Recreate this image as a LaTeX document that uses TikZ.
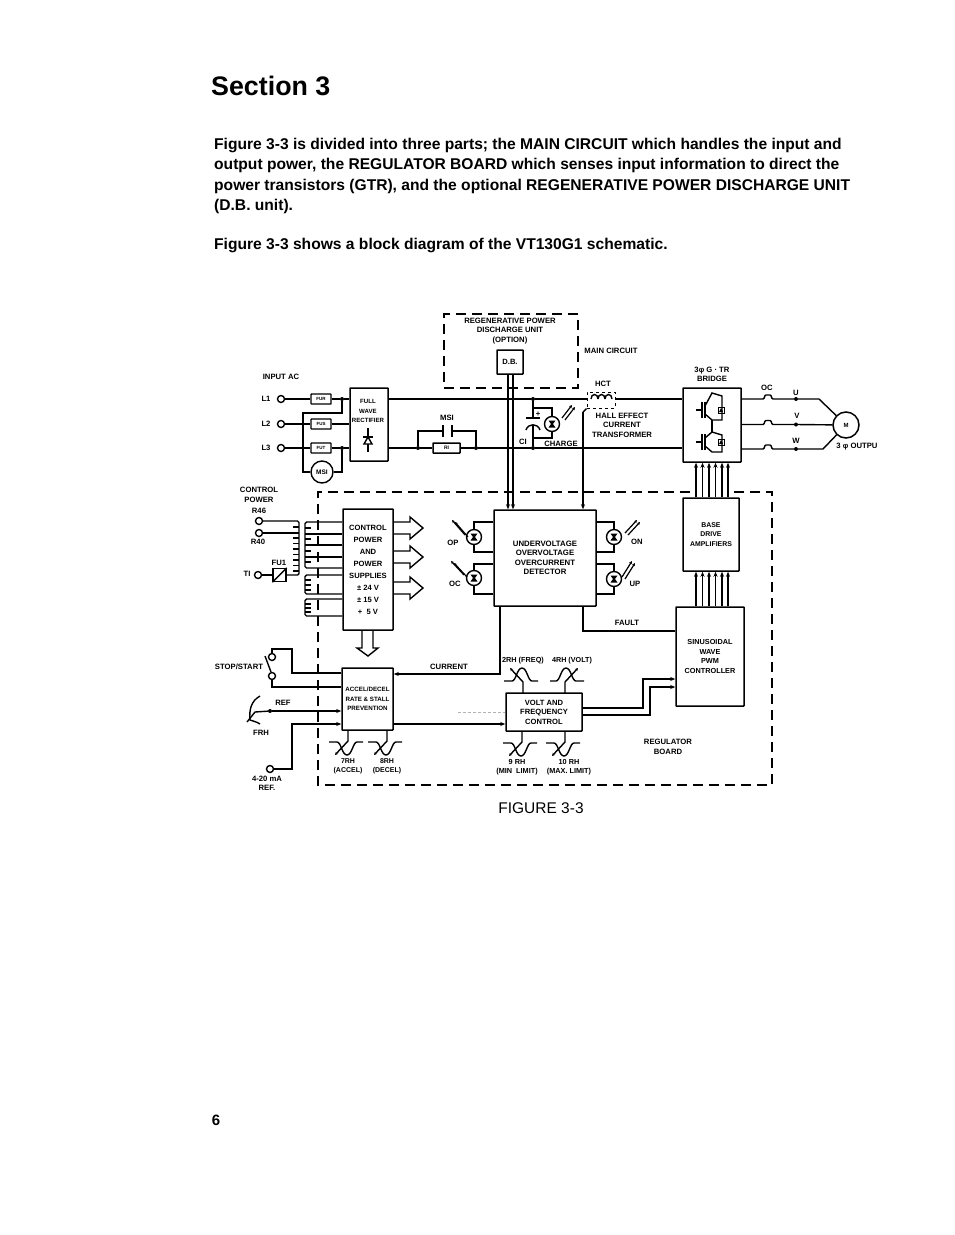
\documentclass[tikz,border=0pt]{standalone}
\usepackage{fontspec}
\setmainfont{Liberation Sans}
\usetikzlibrary{arrows.meta}
\tikzset{
  wire/.style={line width=1.4pt},
  arr/.style={wire,-{Stealth[length=5pt,width=4pt]}},
  boardline/.style={line width=1.3pt,dash pattern=on 10pt off 6pt},
  blockbox/.style={draw,line width=1.5pt,rounded corners=0.5pt,inner sep=0pt,align=center,font=\fontsize{7.6}{12}\selectfont\bfseries},
  lab/.style={inner sep=0pt,align=center,font=\fontsize{7.7}{9.5}\selectfont\bfseries},
  para/.style={anchor=west,inner sep=0pt,font=\fontsize{15.6}{17}\selectfont\bfseries},
  fusebox/.style={draw,line width=1.4pt,rounded corners=0.5pt,minimum width=20pt,minimum height=10pt,inner sep=0pt,font=\fontsize{4.5}{4}\selectfont\bfseries},
  term/.style={draw,circle,line width=1.4pt,minimum size=7pt,inner sep=0pt},
  jdot/.style={fill,circle,minimum size=4pt,inner sep=0pt},
  ledring/.style={draw,circle,line width=1.4pt,minimum size=15pt,inner sep=0pt}
}
% trim pot on a block edge: x, y, side (1 below, -1 above), wiper side
\newcommand{\trimpot}[4]{
  \draw[wire,shift={(#1,#2)},yscale=#3,xscale=#4,-{Stealth[length=3pt,width=3pt]}] (0,0) -- (0,11) -- (-13,25);
  \draw[wire,shift={(#1,#2)},yscale=#3,xscale=#4] (-19,12) -- (-11,12) .. controls (-7,12) and (-6,25) .. (-1,25) .. controls (4,25) and (5,12) .. (9,12) -- (15,12);
}
% lamp with its bow-tie
\newcommand{\lampsym}[3]{
  \node[ledring] (#1) at (#2,#3) {};
  \fill[shift={(#2,#3)}] (-3.5,-3.5) -- (3.5,-3.5) -- (1,0) -- (3.5,3.5) -- (-3.5,3.5) -- (-1,0) -- cycle;
}
% pair of light arrows
\newcommand{\lightpair}[4]{
  \draw[line width=1.2pt,-{Stealth[length=3pt,width=3pt]}] (#1,#2) -- (#3,#4);
  \draw[line width=1.2pt,-{Stealth[length=3pt,width=3pt]}] (#1+3,#2+2) -- (#3+3,#4+2);
}
% transistor and diode of the bridge
\newcommand{\bridgeleg}[3]{
  \begin{scope}[shift={(#1,#2)}]
    \draw[wire] (-16,0) -- (-10,0);
    \draw[wire] (-10,-8) -- (-10,8);
    \draw[wire] (-7,-8) -- (-7,8);
    \draw[wire] (-7,-4) -- (0,#3) -- (10,#3+3) -- (10,10) -- (0,10) -- (-7,4);
    \draw[line width=1pt] (6,-3) rectangle (12,3);
    \fill (7,2) -- (11,2) -- (9,-2) -- cycle;
  \end{scope}
}
% output line with the OC hump
\newcommand{\humpline}[2]{
  \draw[wire,rounded corners=1pt] (bridge.east |- #1) -- (764,#2) -- (765,#2-4) -- (771,#2-4) -- (772,#2) -- (#1);
}
% block arrow out of the supply box
\newcommand{\blockarrow}[1]{
  \draw[wire,shift={(393,#1)}] (0,-6) -- (17,-6) -- (17,-11) -- (30,0) -- (17,11) -- (17,6) -- (0,6);
}

\begin{document}
\begin{tikzpicture}[x=1pt,y=-1pt]
\useasboundingbox (0,0) rectangle (954,1235);

% Page text
\node[anchor=west,inner sep=0pt,font=\fontsize{26.8}{28}\selectfont\bfseries] (heading) at (211,86) {Section 3};
\node[para] (line1) at (214,145) {Figure 3-3 is divided into three parts; the MAIN CIRCUIT which handles the input and};
\node[para] (line2) at (214,165) {output power, the REGULATOR BOARD which senses input information to direct the};
\node[para] (line3) at (214,186) {power transistors (GTR), and the optional REGENERATIVE POWER DISCHARGE UNIT};
\node[para] (line4) at (214,206) {(D.B. unit).};
\node[para] (line5) at (214,245) {Figure 3-3 shows a block diagram of the VT130G1 schematic.};
\node[inner sep=0pt,font=\fontsize{15}{16}\selectfont\bfseries] (pagenum) at (216,1120) {6};
\node[inner sep=0pt,font=\fontsize{15.5}{16}\selectfont] (figcap) at (541,808) {FIGURE 3-3};

% Regenerative unit
\node[draw,boardline,minimum width=134pt,minimum height=74pt,inner sep=0pt] (regen) at (511,351) {};
\node[lab] (regentxt) at (510,331) {REGENERATIVE POWER\\DISCHARGE UNIT\\(OPTION)};
\node[blockbox] (db) at (510,362) [minimum width=26pt,minimum height=24pt] {D.B.};
\node[lab] (maincircuit) at (611,351) {MAIN CIRCUIT};

% Regulator board outline
\coordinate (boardA) at (690,492);
\coordinate (boardB) at (730,492);
\draw[boardline] (boardA) -- (318,492) -- (318,785) -- (772,785) -- (772,492) -- (boardB);
\node[lab] (regboard) at (668,747) {REGULATOR\\BOARD};

% Input side
\node[lab] (inputac) at (281,377) {INPUT AC};
\foreach \nm/\yy/\fs in {1/399/FUR,2/424/FUS,3/448/FUT} {
  \node[term] (L\nm) at (281,\yy) {};
  \node[lab] (L\nm txt) at (266,\yy) {L\nm};
  \node[fusebox] (fuse\nm) at (321,\yy) {\fs};
}
\node[blockbox] (rect) at (369,424.5) [minimum width=38pt,minimum height=73pt] {};
\node[lab,font=\fontsize{6.1}{9.2}\selectfont\bfseries] (recttxt) at (368,411) {FULL\\WAVE\\RECTIFIER};
\node[jdot] (ja) at (342,399) {};
\node[jdot] (jb) at (342,448) {};
\node[draw,circle,line width=1.4pt,minimum size=22pt,inner sep=0pt,font=\fontsize{6.5}{7}\selectfont\bfseries] (msi) at (322,472) {MSI};
\draw[wire] (L1) -- (fuse1);
\draw[wire] (fuse1) -- (ja) -- (rect.west |- ja);
\draw[wire] (L2) -- (fuse2);
\draw[wire] (fuse2) -- (rect.west |- fuse2);
\draw[wire] (L3) -- (fuse3);
\draw[wire] (fuse3) -- (jb) -- (rect.west |- jb);
\draw[wire] (ja) |- (303,413) -- (303,472) -- (msi);
\draw[wire] (msi) -| (jb);
% rectifier diode
\draw[wire] (368,428) -- (368,452);
\draw[wire,fill=white] (364,444) -- (372,444) -- (368,437) -- cycle;
\draw[wire] (363,437) -- (373,437);

% DC bus
\node[jdot] (jcapa) at (533,399) {};
\node[jdot] (jcapb) at (533,448) {};
\node[jdot] (jmsia) at (418,448) {};
\node[jdot] (jmsib) at (476,448) {};
\node[blockbox] (ri) at (446.5,448) [minimum width=27pt,minimum height=10pt,font=\fontsize{5}{5}\selectfont\bfseries] {RI};
\node[lab] (msilab) at (447,418) {MSI};
\node[blockbox] (bridge) at (712,425) [minimum width=58pt,minimum height=74pt] {};
\node[draw,dashed,line width=1pt,minimum width=28pt,minimum height=16pt,inner sep=0pt] (hct) at (601,400) {};
\draw[wire] (rect.east |- ja) -- (jcapa) -- (hct.west |- ja);
\draw[wire] (hct.east |- ja) -- (bridge.west |- ja);
\foreach \cx in {591,598,605} {
  \draw[wire] (\cx,399) .. controls (\cx,393) and (\cx+7,393) .. (\cx+7,399);
}
\draw[wire] (rect.east |- jb) -- (jmsia) -- (ri) -- (jmsib) -- (jcapb) -- (bridge.west |- jb);
\draw[wire] (jmsia) |- (443,431) -- (443,425) -- (443,437);
\draw[wire] (jmsib) |- (452,431) -- (452,425) -- (452,437);
% capacitor and charge lamp
\coordinate (capa) at (533,418);
\coordinate (capb) at (533,425);
\draw[wire] (jcapa) -- (capa);
\draw[wire] (526,418) -- (540,418);
\draw[wire] (jcapb) -- (capb);
\draw[wire] (526,430) .. controls (528,423) and (538,423) .. (540,430);
\node[lab] (plus) at (538,414) {+};
\lampsym{charge}{552}{424}
\draw[wire] (533,408) -| (charge);
\draw[wire] (533,438) -| (charge);
\lightpair{562}{418}{572}{405}
\node[lab] (c1lab) at (523,442) {CI};
\node[lab] (chargelab) at (561,444) {CHARGE};
\node[lab] (hctlab) at (603,384) {HCT};
\node[lab] (halllab) at (622,425) {HALL EFFECT\\CURRENT\\TRANSFORMER};

% Bridge
\node[lab] (bridgelab) at (712,374.5) {3φ G · TR\\BRIDGE};
\bridgeleg{712}{410}{-17}
\bridgeleg{712}{442}{-10}
\draw[wire] (712,420) -- (712,432);
\node[jdot] (jU) at (796,399) {};
\node[jdot] (jV) at (796,424.5) {};
\node[jdot] (jW) at (796,449) {};
\humpline{jU}{399}
\humpline{jV}{424.5}
\humpline{jW}{449}
\node[draw,circle,line width=1.5pt,minimum size=26pt,inner sep=0pt,font=\fontsize{6}{7}\selectfont\bfseries] (motor) at (846,425) {M};
\draw[wire] (jU) -- (819,399) -- (motor);
\draw[wire] (jV) -- (motor);
\draw[wire] (jW) -- (823,449) -- (motor);
\node[lab] (oclab) at (767,388) {OC};
\node[lab] (ulab) at (796,393) {U};
\node[lab] (vlab) at (797,416) {V};
\node[lab] (wlab) at (796,441) {W};
\node[lab] (outlab) at (857,447) {3 φ OUTPU};

% Control power
\node[lab] (ctrlpower) at (259,495) {CONTROL\\POWER};
\node[lab] (r46) at (259,511) {R46};
\node[lab] (r40) at (258,542) {R40};
\node[lab] (t1lab) at (247,574) {TI};
\node[lab] (fu1lab) at (279,563) {FU1};
\node[term] (tr46) at (259,521) {};
\node[term] (tr40) at (259,533) {};
\node[term] (tt1) at (258,575) {};
\node[draw,line width=1.4pt,minimum size=13pt,inner sep=0pt] (fu1) at (279.5,575) {};
\draw[wire] (fu1.south west) -- (fu1.north east);
\coordinate (coilT) at (299,521);
\coordinate (coilB) at (299,575);
\draw[wire,rounded corners=1.5pt] (tr46) -- (coilT) -- (coilB) -- (fu1);
\draw[wire] (tr40) -- (coilT |- tr40);
\draw[wire] (tt1) -- (fu1);
\foreach \yy in {527,532.5,...,571} {
  \draw[wire] (293,\yy) -- (299,\yy);
}
\node[blockbox] (supply) at (368,569.5) [minimum width=50pt,minimum height=121pt] {CONTROL\\POWER\\AND\\POWER\\SUPPLIES\\± 24 V\\± 15 V\\+ \ 5 V};
% secondary windings
\foreach \yy in {534,545,557} {
  \draw[wire] (305,\yy) -- (supply.west |- 0,\yy);
}
\draw[wire,rounded corners=1.5pt] (supply.west |- 0,522) -- (305,522) -- (305,568) -- (supply.west |- 0,568);
\draw[wire,rounded corners=1.5pt] (supply.west |- 0,575) -- (305,575) -- (305,594) -- (supply.west |- 0,594);
\draw[wire,rounded corners=1.5pt] (supply.west |- 0,599) -- (305,599) -- (305,616) -- (supply.west |- 0,616);
\foreach \yy in {528,539,551,562,580,585,590,604,608,612} {
  \draw[wire] (305,\yy) -- (311,\yy);
}
\blockarrow{528}
\blockarrow{557}
\blockarrow{588}
\draw[wire] (362,630) -- (362,648) -- (357,648) -- (368,656) -- (378,648) -- (373,648) -- (373,630);

% Accel block and its inputs
\node[blockbox] (accel) at (367.5,699) [minimum width=51pt,minimum height=62pt,font=\fontsize{6.2}{9.5}\selectfont\bfseries] {ACCEL/DECEL\\RATE \& STALL\\PREVENTION};
\node[lab] (stoplab) at (239,667) {STOP/START};
\node[term] (swa) at (272,657) {};
\node[term] (swb) at (272,676) {};
\coordinate (swtop) at (292,649);
\draw[wire] (swa) |- (swtop) |- (accel.west |- 0,673);
\draw[wire] (swb) |- (accel.west |- 0,687);
\draw[wire] (265,656) -- (271,672);
\node[lab] (reflab) at (283,703) {REF};
\node[lab] (frhlab) at (261,733) {FRH};
\node[jdot] (jref) at (270,711) {};
\coordinate (wipe) at (255,712);
\draw[arr] (jref) -- (accel.west |- jref);
\draw[wire] (jref) -- (wipe) -- (247,722);
\draw[wire] (260,696) .. controls (251,701) and (249,710) .. (250,720) .. controls (253,721) and (257,722) .. (260,724);
\node[term] (t420) at (270,769) {};
\node[lab] (t420lab) at (267,783.5) {4-20 mA\\REF.};
\coordinate (refc) at (292,724);
\draw[arr] (t420) -| (refc) -- (accel.west |- refc);
\trimpot{348}{730}{1}{1}
\trimpot{387}{730}{1}{1}
\node[lab,font=\fontsize{7}{9.5}\selectfont\bfseries] (rh7) at (348,766.5) {7RH\\(ACCEL)};
\node[lab,font=\fontsize{7}{9.5}\selectfont\bfseries] (rh8) at (387,766.5) {8RH\\(DECEL)};

% Detector with lamps
\node[blockbox] (detect) at (545,558) [minimum width=102pt,minimum height=96pt,font=\fontsize{7.8}{9.5}\selectfont\bfseries] {UNDERVOLTAGE\\OVERVOLTAGE\\OVERCURRENT\\DETECTOR};
\draw[arr] (db.south -| 508,0) -- (detect.north -| 508,0);
\draw[arr] (db.south -| 513,0) -- (detect.north -| 513,0);
\coordinate (hctc) at (583,412);
\draw[wire] (hct.south west) -- (hctc);
\draw[arr] (hctc) -- (detect.north -| hctc);
\foreach \nm/\xx/\yy in {lampop/474/537,lampoc/474/578,lampon/614/537,lampup/614/579} {
  \lampsym{\nm}{\xx}{\yy}
}
\foreach \nm/\yy/\yb in {lampop/522/552,lampoc/564/594} {
  \draw[wire] (detect.west |- 0,\yy) -| (\nm);
  \draw[wire] (detect.west |- 0,\yb) -| (\nm);
}
\foreach \nm/\yy/\yb in {lampon/522/552,lampup/564/594} {
  \draw[wire] (detect.east |- 0,\yy) -| (\nm);
  \draw[wire] (detect.east |- 0,\yb) -| (\nm);
}
\lightpair{465}{535}{452}{520}
\lightpair{464}{575}{451}{561}
\lightpair{625}{533}{637}{520}
\lightpair{622}{577}{632}{561}
\node[lab] (oplab) at (453,543) {OP};
\node[lab] (ocleft) at (455,584) {OC};
\node[lab] (onlab) at (637,542) {ON};
\node[lab] (uplab) at (635,584) {UP};

% Regulator path
\node[blockbox] (base) at (711,534.5) [minimum width=56pt,minimum height=73pt,font=\fontsize{6.9}{9.5}\selectfont\bfseries] {BASE\\DRIVE\\AMPLIFIERS};
\node[blockbox] (pwm) at (710,656.5) [minimum width=68pt,minimum height=99pt,font=\fontsize{7.3}{9.5}\selectfont\bfseries] {SINUSOIDAL\\WAVE\\PWM\\CONTROLLER};
\node[blockbox] (vfc) at (544,712) [minimum width=76pt,minimum height=38pt,font=\fontsize{7.6}{9.5}\selectfont\bfseries] {VOLT AND\\FREQUENCY\\CONTROL};
\foreach \xx in {696,702.5,709,715.5,722,728} {
  \draw[arr] (base.north -| \xx,0) -- (bridge.south -| \xx,0);
  \draw[arr] (pwm.north -| \xx,0) -- (base.south -| \xx,0);
}
\coordinate (curr) at (500,674);
\draw[arr] (detect.south -| curr) -- (curr) -- (accel.east |- curr);
\node[lab] (currlab) at (449,667) {CURRENT};
\coordinate (faultc) at (583,631);
\draw[wire] (detect.south -| faultc) -- (faultc) -- (pwm.west |- faultc);
\node[lab] (faultlab) at (627,623) {FAULT};
\draw[arr] (accel.east |- 0,724) -- (vfc.west |- 0,724);
\draw[gray!60,line width=0.5pt,dash pattern=on 3pt off 2pt] (458,712) -- (vfc.west |- 0,712);
\coordinate (pa) at (643,708);
\coordinate (pb) at (650,715);
\draw[arr] (vfc.east |- pa) -- (pa) |- (pwm.west |- 0,679);
\draw[arr] (vfc.east |- pb) -- (pb) |- (pwm.west |- 0,687);
\trimpot{523}{693}{-1}{1}
\trimpot{565}{693}{-1}{-1}
\trimpot{522}{731}{1}{1}
\trimpot{565}{731}{1}{1}
\node[lab,font=\fontsize{7.3}{7}\selectfont\bfseries] (rh2) at (523,661) {2RH (FREQ)};
\node[lab,font=\fontsize{7.2}{7}\selectfont\bfseries] (rh4) at (572,661) {4RH (VOLT)};
\node[lab,font=\fontsize{7.3}{9.5}\selectfont\bfseries] (rh9) at (517,767) {9 RH\\(MIN \ LIMIT)};
\node[lab,font=\fontsize{7.3}{9.5}\selectfont\bfseries] (rh10) at (569,767) {10 RH\\(MAX. LIMIT)};
\end{tikzpicture}
\end{document}
